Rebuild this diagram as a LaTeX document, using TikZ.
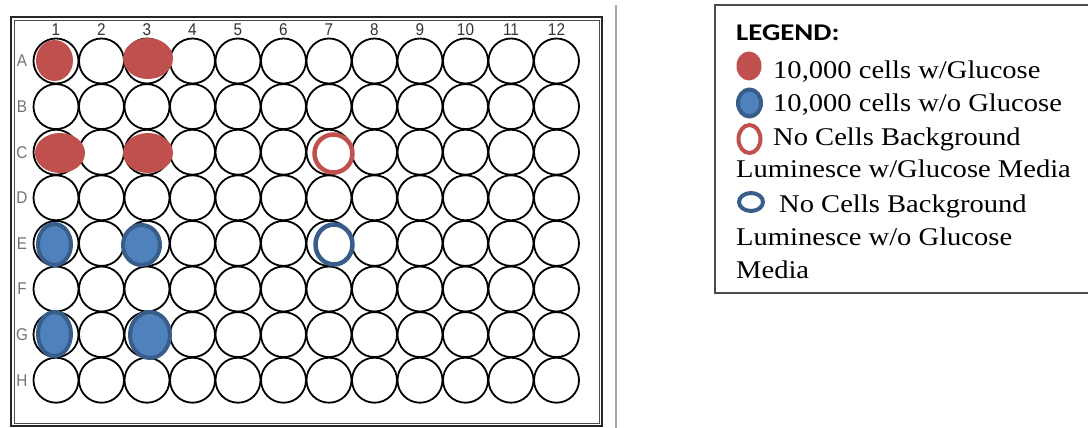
\documentclass[tikz,border=0pt]{standalone}
\usepackage{fontspec}
\setmainfont{Liberation Serif}
\newfontfamily\legendfont[FakeStretch=1.12]{Liberation Serif}
\newfontfamily\legendhead[FakeStretch=1.2]{Carlito}
\newfontfamily\platefont[FakeStretch=0.9]{Liberation Sans}
\usetikzlibrary{positioning}
\definecolor{glured}{HTML}{C0504D}
\definecolor{noglufill}{HTML}{4F81BD}
\definecolor{nogluedge}{HTML}{385D8A}

\begin{document}
\begin{tikzpicture}[x=1pt, y=-1pt,
    well/.style={circle, draw=black, line width=1.8pt, minimum size=45pt, inner sep=0pt},
    collabel/.style={inner sep=0pt, text=black!80, font=\platefont\fontsize{17}{17}\selectfont},
    rowlabel/.style={inner sep=0pt, text=black!55, font=\platefont\fontsize{17}{17}\selectfont},
    legtext/.style={anchor=base west, inner sep=0pt, font=\legendfont\fontsize{25.5}{28}\selectfont},
    glufill/.style={fill=glured},
    noglu/.style={fill=noglufill, draw=nogluedge, line width=4pt},
    ring/.style={fill=white, line width=4.5pt}]
  \useasboundingbox (0,0) rectangle (1088,428);

  % plate frame
  \draw[line width=1.6pt, black!85] (11,17) rectangle (602,426);
  \draw[line width=0.9pt, black!70] (14,20) rectangle (599,423);

  % column numbers
  \foreach \col in {1,...,12}
    \node[collabel] (col-\col) at (56+45.5*\col-45.5, 30) {\col};

  % wells
  \foreach \row [count=\i from 0] in {A,B,C,D,E,F,G,H} {
    \node[rowlabel] (lab-\row) at (22, 61+45.6*\i) {\row};
    \foreach \col in {1,...,12}
      \node[well] (w-\row\col) at (56+45.5*\col-45.5, 61+45.6*\i) {};
  }

  % with glucose
  \fill[glufill] (54.5,60.5) ellipse [x radius=18.5pt, y radius=20.5pt];
  \fill[glufill] (148,58.5) ellipse [x radius=25pt, y radius=20.5pt];
  \fill[glufill] (60,153) ellipse [x radius=25pt, y radius=20pt];
  \fill[glufill] (148,153) ellipse [x radius=25pt, y radius=20pt];

  % without glucose
  \filldraw[noglu] (54.5,244.5) ellipse [x radius=16.5pt, y radius=20.5pt];
  \filldraw[noglu] (141.5,245) ellipse [x radius=18.5pt, y radius=20pt];
  \filldraw[noglu] (54.5,334) ellipse [x radius=16.5pt, y radius=22pt];
  \filldraw[noglu] (150,335) ellipse [x radius=20pt, y radius=23pt];

  % background wells
  \filldraw[ring, draw=glured] (333.5,153.5) ellipse [x radius=19pt, y radius=19pt];
  \filldraw[ring, draw=nogluedge] (334,244.5) ellipse [x radius=18.5pt, y radius=20pt];

  % divider
  \draw[line width=2pt, black!35] (616,5) -- (616,428);

  % legend
  \draw[line width=1.5pt, black!70] (1095,5) -- (715,5) -- (715,293) -- (1095,293);
  \node[anchor=base west, inner sep=0pt, font=\legendhead\bfseries\fontsize{24}{28}\selectfont]
    (leg-head) at (736,41) {LEGEND:};

  \fill[glufill] (749,66) ellipse [x radius=12.5pt, y radius=14.5pt];
  \node[legtext] (leg-glu) at (773,78) {10,000 cells w/Glucose};

  \filldraw[noglu] (749.5,103) ellipse [x radius=11.5pt, y radius=13.5pt];
  \node[legtext] (leg-noglu) at (773,111) {10,000 cells w/o Glucose};

  \filldraw[ring, line width=4pt, draw=glured] (749.5,139) ellipse [x radius=11pt, y radius=14pt];
  \node[legtext] (leg-bgglu) at (773,145) {No Cells Background};
  \node[legtext] (leg-bgglu-2) at (736,177) {Luminesce w/Glucose Media};

  \filldraw[ring, line width=4pt, draw=nogluedge] (751,202) ellipse [x radius=12pt, y radius=9pt];
  \node[legtext] (leg-bgnoglu) at (779,212) {No Cells Background};
  \node[legtext] (leg-bgnoglu-2) at (736,245) {Luminesce w/o Glucose};
  \node[legtext] (leg-bgnoglu-3) at (736,278) {Media};
\end{tikzpicture}
\end{document}
